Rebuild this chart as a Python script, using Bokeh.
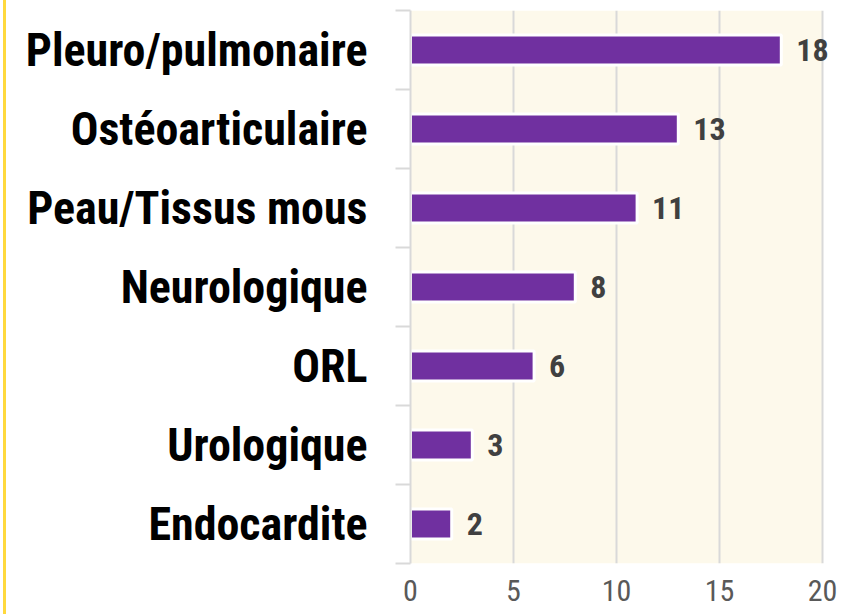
from bokeh.plotting import figure
from bokeh.models import FixedTicker, ColumnDataSource, Range1d
from bokeh.core.properties import value
from bokeh.embed import file_html
from bokeh.resources import INLINE

categories = ["Pleuro/pulmonaire", "Ostéoarticulaire", "Peau/Tissus mous",
              "Neurologique", "ORL", "Urologique", "Endocardite"]
counts = [18, 13, 11, 8, 6, 3, 2]
x_ticks = [0, 5, 10, 15, 20]

n = len(categories)
ypos = [n - i - 0.5 for i in range(n)]
src = ColumnDataSource(dict(y=ypos, v=counts, cat=categories, lbl=[str(c) for c in counts]))

FONT = "Roboto Condensed"

# frame spans 410..846 px; the cream panel covers 0..20 (410..822 px)
frame_px, axis_px = 436, 412
x_end = x_ticks[-1] * frame_px / axis_px

p = figure(width=850, height=614, output_backend="svg", toolbar_location=None,
           x_range=Range1d(0, x_end), y_range=Range1d(0, n),
           min_border_left=410, min_border_right=4, min_border_top=10, min_border_bottom=51)
p.background_fill_color = None
p.background_fill_alpha = 0
p.border_fill_alpha = 0
p.outline_line_color = None
p.styles = {"background": "linear-gradient(to right, #ffffff 3px, #FFD93D 3px, #FFD93D 6px, #ffffff 6px)"}

p.quad(left=[x_ticks[0]], right=[x_ticks[-1]], bottom=[0], top=[n],
       fill_color="#FDF9EB", line_color=None, level="image")

p.hbar(y="y", right="v", left=0, height=0.38, source=src,
       fill_color="#7030A0", line_color="white", line_width=3)

p.text(x="v", y="y", text="lbl", source=src, x_offset=15, text_baseline="middle",
       text_align="left", text_font=value(FONT), text_font_style="bold",
       text_font_size="32px", text_color="#404040")

# x axis
p.xaxis.ticker = FixedTicker(ticks=x_ticks)
p.xaxis.axis_line_color = None
p.xaxis.major_tick_line_color = None
p.xaxis.minor_tick_line_color = None
p.xaxis.major_tick_out = 0
p.xaxis.minor_tick_out = 0
p.xaxis.major_label_text_font = FONT
p.xaxis.major_label_text_font_size = "30px"
p.xaxis.major_label_text_color = "#595959"
p.xaxis.major_label_standoff = 16

p.xgrid.ticker = FixedTicker(ticks=x_ticks[1:])
p.xgrid.grid_line_color = "#D9D9D9"
p.xgrid.grid_line_width = 2
p.ygrid.visible = False

# y axis
p.yaxis.ticker = FixedTicker(ticks=ypos, minor_ticks=list(range(n + 1)))
p.yaxis.major_label_overrides = {y: c for y, c in zip(ypos, categories)}
p.yaxis.axis_line_color = "#D9D9D9"
p.yaxis.axis_line_width = 2
p.yaxis.major_tick_line_color = None
p.yaxis.major_tick_out = 0
p.yaxis.major_tick_in = 0
p.yaxis.minor_tick_line_color = "#D9D9D9"
p.yaxis.minor_tick_line_width = 2
p.yaxis.minor_tick_out = 15
p.yaxis.minor_tick_in = 0
p.yaxis.major_label_text_font = FONT
p.yaxis.major_label_text_font_style = "bold"
p.yaxis.major_label_text_font_size = "46px"
p.yaxis.major_label_text_color = "black"
p.yaxis.major_label_standoff = 28

open("out.html", "w").write(file_html(p, INLINE))
